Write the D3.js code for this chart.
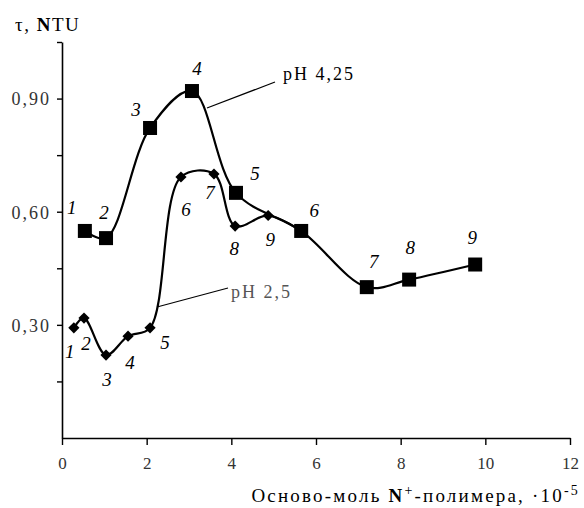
<!DOCTYPE html>
<html>
<head>
<meta charset="utf-8">
<script src="https://cdn.jsdelivr.net/npm/d3@7"></script>
<style>
  body { margin: 0; background: #fff; }
</style>
</head>
<body>
<div id="chart"></div>
<script>
// data
var ph425X = [0.54, 1.04, 2.08, 3.07, 4.11, 5.65, 7.2, 8.2, 9.76];
var ph425Y = [0.549, 0.53, 0.822, 0.92, 0.65, 0.549, 0.40, 0.42, 0.46];
var ph25X = [0.28, 0.52, 1.04, 1.56, 2.08, 2.81, 3.59, 4.09, 4.87, 5.65];
var ph25Y = [0.292, 0.318, 0.22, 0.27, 0.292, 0.692, 0.70, 0.562, 0.59, 0.549];
var pointNames = ["1", "2", "3", "4", "5", "6", "7", "8", "9"];
var xTicks = [0, 2, 4, 6, 8, 10, 12];
var yTicks = [0.15, 0.30, 0.45, 0.60, 0.75, 0.90, 1.05];
var yTickLabels = {"0.3": "0,30", "0.6": "0,60", "0.9": "0,90"};

var serif = "Liberation Serif";

// label offsets (px) for the numbers next to the points
var sqOff = [[-13, -17], [-2, -19], [-14, -12], [5, -16], [19, -13], [13, -14], [7, -19], [1, -26], [-3, -21]];
var dmOff = [[-4, 30], [2, 32], [1, 31], [2, 33], [15, 21], [5, 39], [-4, 25], [-1, 29], [2, 31]];

var svgWidth = 584;
var svgHeight = 508;
var margin = { top: 42, left: 62, right: 14, bottom: 70 };

var svg = d3.select("#chart")
  .append("svg")
  .attr("width", svgWidth)
  .attr("height", svgHeight);

var g = svg.append("g")
  .attr("transform", "translate(" + margin.left + "," + margin.top + ")");

var x = d3.scaleLinear().domain([0, 12]).range([0, 508]);
var y = d3.scaleLinear().domain([0, 1.05]).range([396, 0]);

// axes
var xAxis = d3.axisBottom(x).tickValues(xTicks).tickSize(7).tickSizeOuter(0);
var yAxis = d3.axisLeft(y).tickValues(yTicks).tickSize(5).tickSizeOuter(0)
  .tickFormat(function(d) { return yTickLabels[String(Math.round(d * 100) / 100)] || ""; });

var gx = g.append("g").attr("transform", "translate(0,396)").call(xAxis);
var gy = g.append("g").call(yAxis);

[gx, gy].forEach(function(a) {
  a.select(".domain").attr("stroke", "#000").attr("stroke-width", 1.6);
  a.selectAll(".tick line").attr("stroke", "#000").attr("stroke-width", 1.4);
  a.selectAll(".tick text")
    .attr("fill", "#333")
    .style("font-family", serif);
});
gx.selectAll(".tick text").attr("dy", "1.25em").style("font-size", "17px");
gy.selectAll(".tick text").attr("x", -11).attr("dy", "0.35em")
  .style("font-size", "18px").style("letter-spacing", "2px");

// lines
var line = d3.line()
  .x(function(d) { return x(d[0]); })
  .y(function(d) { return y(d[1]); })
  .curve(d3.curveCatmullRom.alpha(0.5));

var sq = ph425X.map(function(v, i) { return [v, ph425Y[i]]; });
var dm = ph25X.map(function(v, i) { return [v, ph25Y[i]]; });

g.append("path").datum(dm)
  .attr("d", line).attr("fill", "none")
  .attr("stroke", "#000").attr("stroke-width", 2.2);

g.append("path").datum(sq)
  .attr("d", line).attr("fill", "none")
  .attr("stroke", "#000").attr("stroke-width", 2.2);

// markers
g.selectAll("rect.sq").data(sq).enter().append("rect")
  .attr("class", "sq")
  .attr("x", function(d) { return x(d[0]) - 7; })
  .attr("y", function(d) { return y(d[1]) - 7; })
  .attr("width", 14).attr("height", 14)
  .attr("fill", "#000");

g.selectAll("path.dm").data(dm.slice(0, 9)).enter().append("path")
  .attr("class", "dm")
  .attr("d", d3.symbol().type(d3.symbolDiamond2).size(80))
  .attr("transform", function(d) {
    return "translate(" + x(d[0]) + "," + y(d[1]) + ")";
  })
  .attr("fill", "#000");

// point numbers
g.selectAll("text.sqn").data(sq).enter().append("text")
  .attr("x", function(d, i) { return x(d[0]) + sqOff[i][0]; })
  .attr("y", function(d, i) { return y(d[1]) + sqOff[i][1]; })
  .attr("text-anchor", "middle")
  .style("font-family", serif)
  .style("font-style", "italic")
  .style("font-size", "19px")
  .text(function(d, i) { return pointNames[i]; });

g.selectAll("text.dmn").data(dm.slice(0, 9)).enter().append("text")
  .attr("x", function(d, i) { return x(d[0]) + dmOff[i][0]; })
  .attr("y", function(d, i) { return y(d[1]) + dmOff[i][1]; })
  .attr("text-anchor", "middle")
  .style("font-family", serif)
  .style("font-style", "italic")
  .style("font-size", "19px")
  .text(function(d, i) { return pointNames[i]; });

// callouts
svg.append("line")
  .attr("x1", 207).attr("y1", 108).attr("x2", 275).attr("y2", 82)
  .attr("stroke", "#000").attr("stroke-width", 1.2);
svg.append("text")
  .attr("x", 283).attr("y", 80)
  .style("font-family", serif)
  .style("font-size", "18px")
  .style("letter-spacing", "2px")
  .text("pH 4,25");

svg.append("line")
  .attr("x1", 157).attr("y1", 307).attr("x2", 228).attr("y2", 288)
  .attr("stroke", "#000").attr("stroke-width", 1.2);
svg.append("text")
  .attr("x", 231).attr("y", 298)
  .attr("fill", "#555")
  .style("font-family", serif)
  .style("font-size", "18px")
  .style("letter-spacing", "2px")
  .text("pH 2,5");

// axis titles
var yt = svg.append("text").attr("x", 15).attr("y", 31)
  .style("font-family", serif).style("font-size", "19px").style("letter-spacing", "1.5px");
yt.append("tspan").text("τ, ");
yt.append("tspan").style("font-weight", "bold").text("N");
yt.append("tspan").text("TU");

var xt = svg.append("text").attr("x", 580).attr("y", 502)
  .attr("text-anchor", "end")
  .style("font-family", serif).style("font-size", "19px").style("letter-spacing", "2.2px");
xt.append("tspan").text("Осново-моль ");
xt.append("tspan").style("font-weight", "bold").text("N");
xt.append("tspan").attr("dy", -7).style("font-size", "14px").text("+");
xt.append("tspan").attr("dy", 7).text("-полимера, ·10");
xt.append("tspan").attr("dy", -7).style("font-size", "14px").text("-5");
</script>
</body>
</html>
